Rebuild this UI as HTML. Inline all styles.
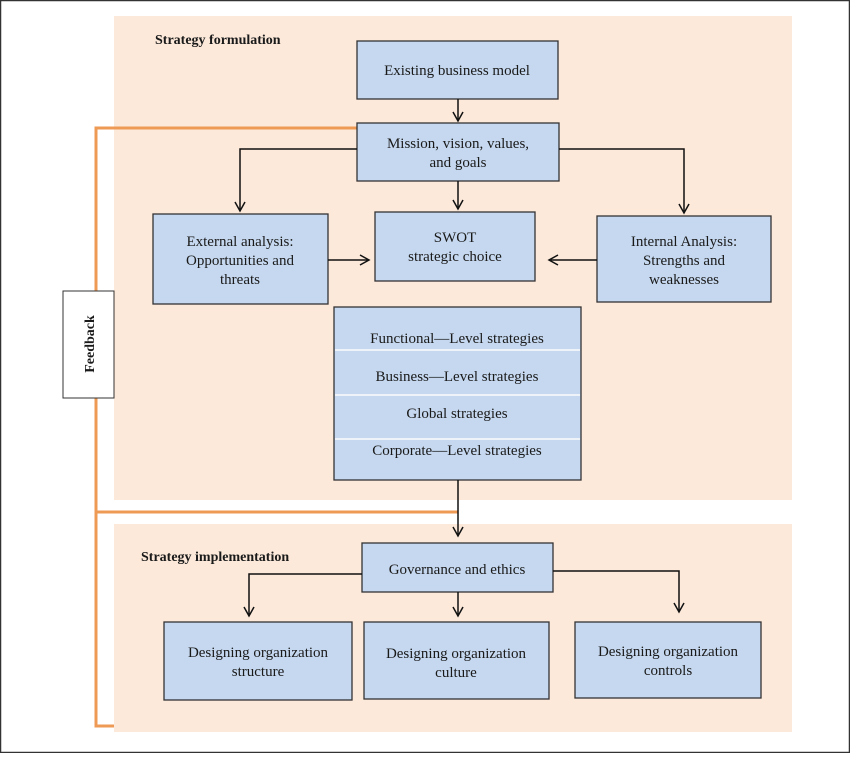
<!DOCTYPE html>
<html><head><style>
body{margin:0;background:#fff;}
svg text{font-family:"Liberation Serif",serif;fill:#1a1a1a;}
</style></head><body>
<svg width="850" height="753" viewBox="0 0 850 753" xmlns="http://www.w3.org/2000/svg">
<defs><marker id="a" markerWidth="12" markerHeight="12" refX="10" refY="6" orient="auto" markerUnits="userSpaceOnUse"><path d="M1,1 L10,6 L1,11" fill="none" stroke="#111" stroke-width="1.5"/></marker></defs>
<rect x="0.5" y="0.5" width="849" height="752" fill="#fff" stroke="#333" stroke-width="1.5"/>
<rect x="114" y="16" width="678" height="484" fill="#fce9da"/>
<rect x="114" y="524" width="678" height="208" fill="#fce9da"/>
<g fill="none" stroke="#ee9a55" stroke-width="3">
<path d="M358,128 H96 V726 H114"/><path d="M96,512 H458"/>
</g>
<rect x="63" y="291" width="51" height="107" fill="#fff" stroke="#333"/>
<text transform="translate(94,344) rotate(-90)" text-anchor="middle" font-size="14" font-weight="bold">Feedback</text>
<text x="155" y="44" font-size="14" font-weight="bold">Strategy formulation</text>
<text x="141" y="561" font-size="14" font-weight="bold">Strategy implementation</text>
<g fill="#c5d8ef" stroke="#333" stroke-width="1.3">
<rect x="357" y="41" width="201" height="58"/>
<rect x="357" y="123" width="202" height="58"/>
<rect x="153" y="214" width="175" height="90"/>
<rect x="375" y="212" width="160" height="69"/>
<rect x="597" y="216" width="174" height="86"/>
<rect x="334" y="307" width="247" height="173"/>
<rect x="362" y="543" width="191" height="49"/>
<rect x="164" y="622" width="188" height="78"/>
<rect x="364" y="622" width="185" height="77"/>
<rect x="575" y="622" width="186" height="76"/>
</g>
<g stroke="#eef3fa" stroke-width="2"><path d="M335,350 H580 M335,395 H580 M335,439 H580"/></g>
<g font-size="15" text-anchor="middle">
<text x="457" y="75">Existing business model</text>
<text x="458" y="148">Mission, vision, values,</text><text x="458" y="167">and goals</text>
<text x="240" y="246">External analysis:</text><text x="240" y="265">Opportunities and</text><text x="240" y="284">threats</text>
<text x="455" y="242">SWOT</text><text x="455" y="261">strategic choice</text>
<text x="684" y="246">Internal Analysis:</text><text x="684" y="265">Strengths and</text><text x="684" y="284">weaknesses</text>
<text x="457" y="343">Functional—Level strategies</text>
<text x="457" y="381">Business—Level strategies</text>
<text x="457" y="418">Global strategies</text>
<text x="457" y="455">Corporate—Level strategies</text>
<text x="457" y="574">Governance and ethics</text>
<text x="258" y="657">Designing organization</text><text x="258" y="676">structure</text>
<text x="456" y="658">Designing organization</text><text x="456" y="677">culture</text>
<text x="668" y="656">Designing organization</text><text x="668" y="675">controls</text>
</g>
<g fill="none" stroke="#111" stroke-width="1.5" marker-end="url(#a)">
<path d="M458,99 V121"/><path d="M458,181 V209"/>
<path d="M357,149 H240 V211"/><path d="M559,149 H684 V213"/>
<path d="M328,260 H369"/><path d="M597,260 H549"/>
<path d="M458,480 V536"/>
<path d="M362,574 H249 V616"/><path d="M458,592 V616"/><path d="M553,571 H679 V612"/>
</g>
</svg>
</body></html>
